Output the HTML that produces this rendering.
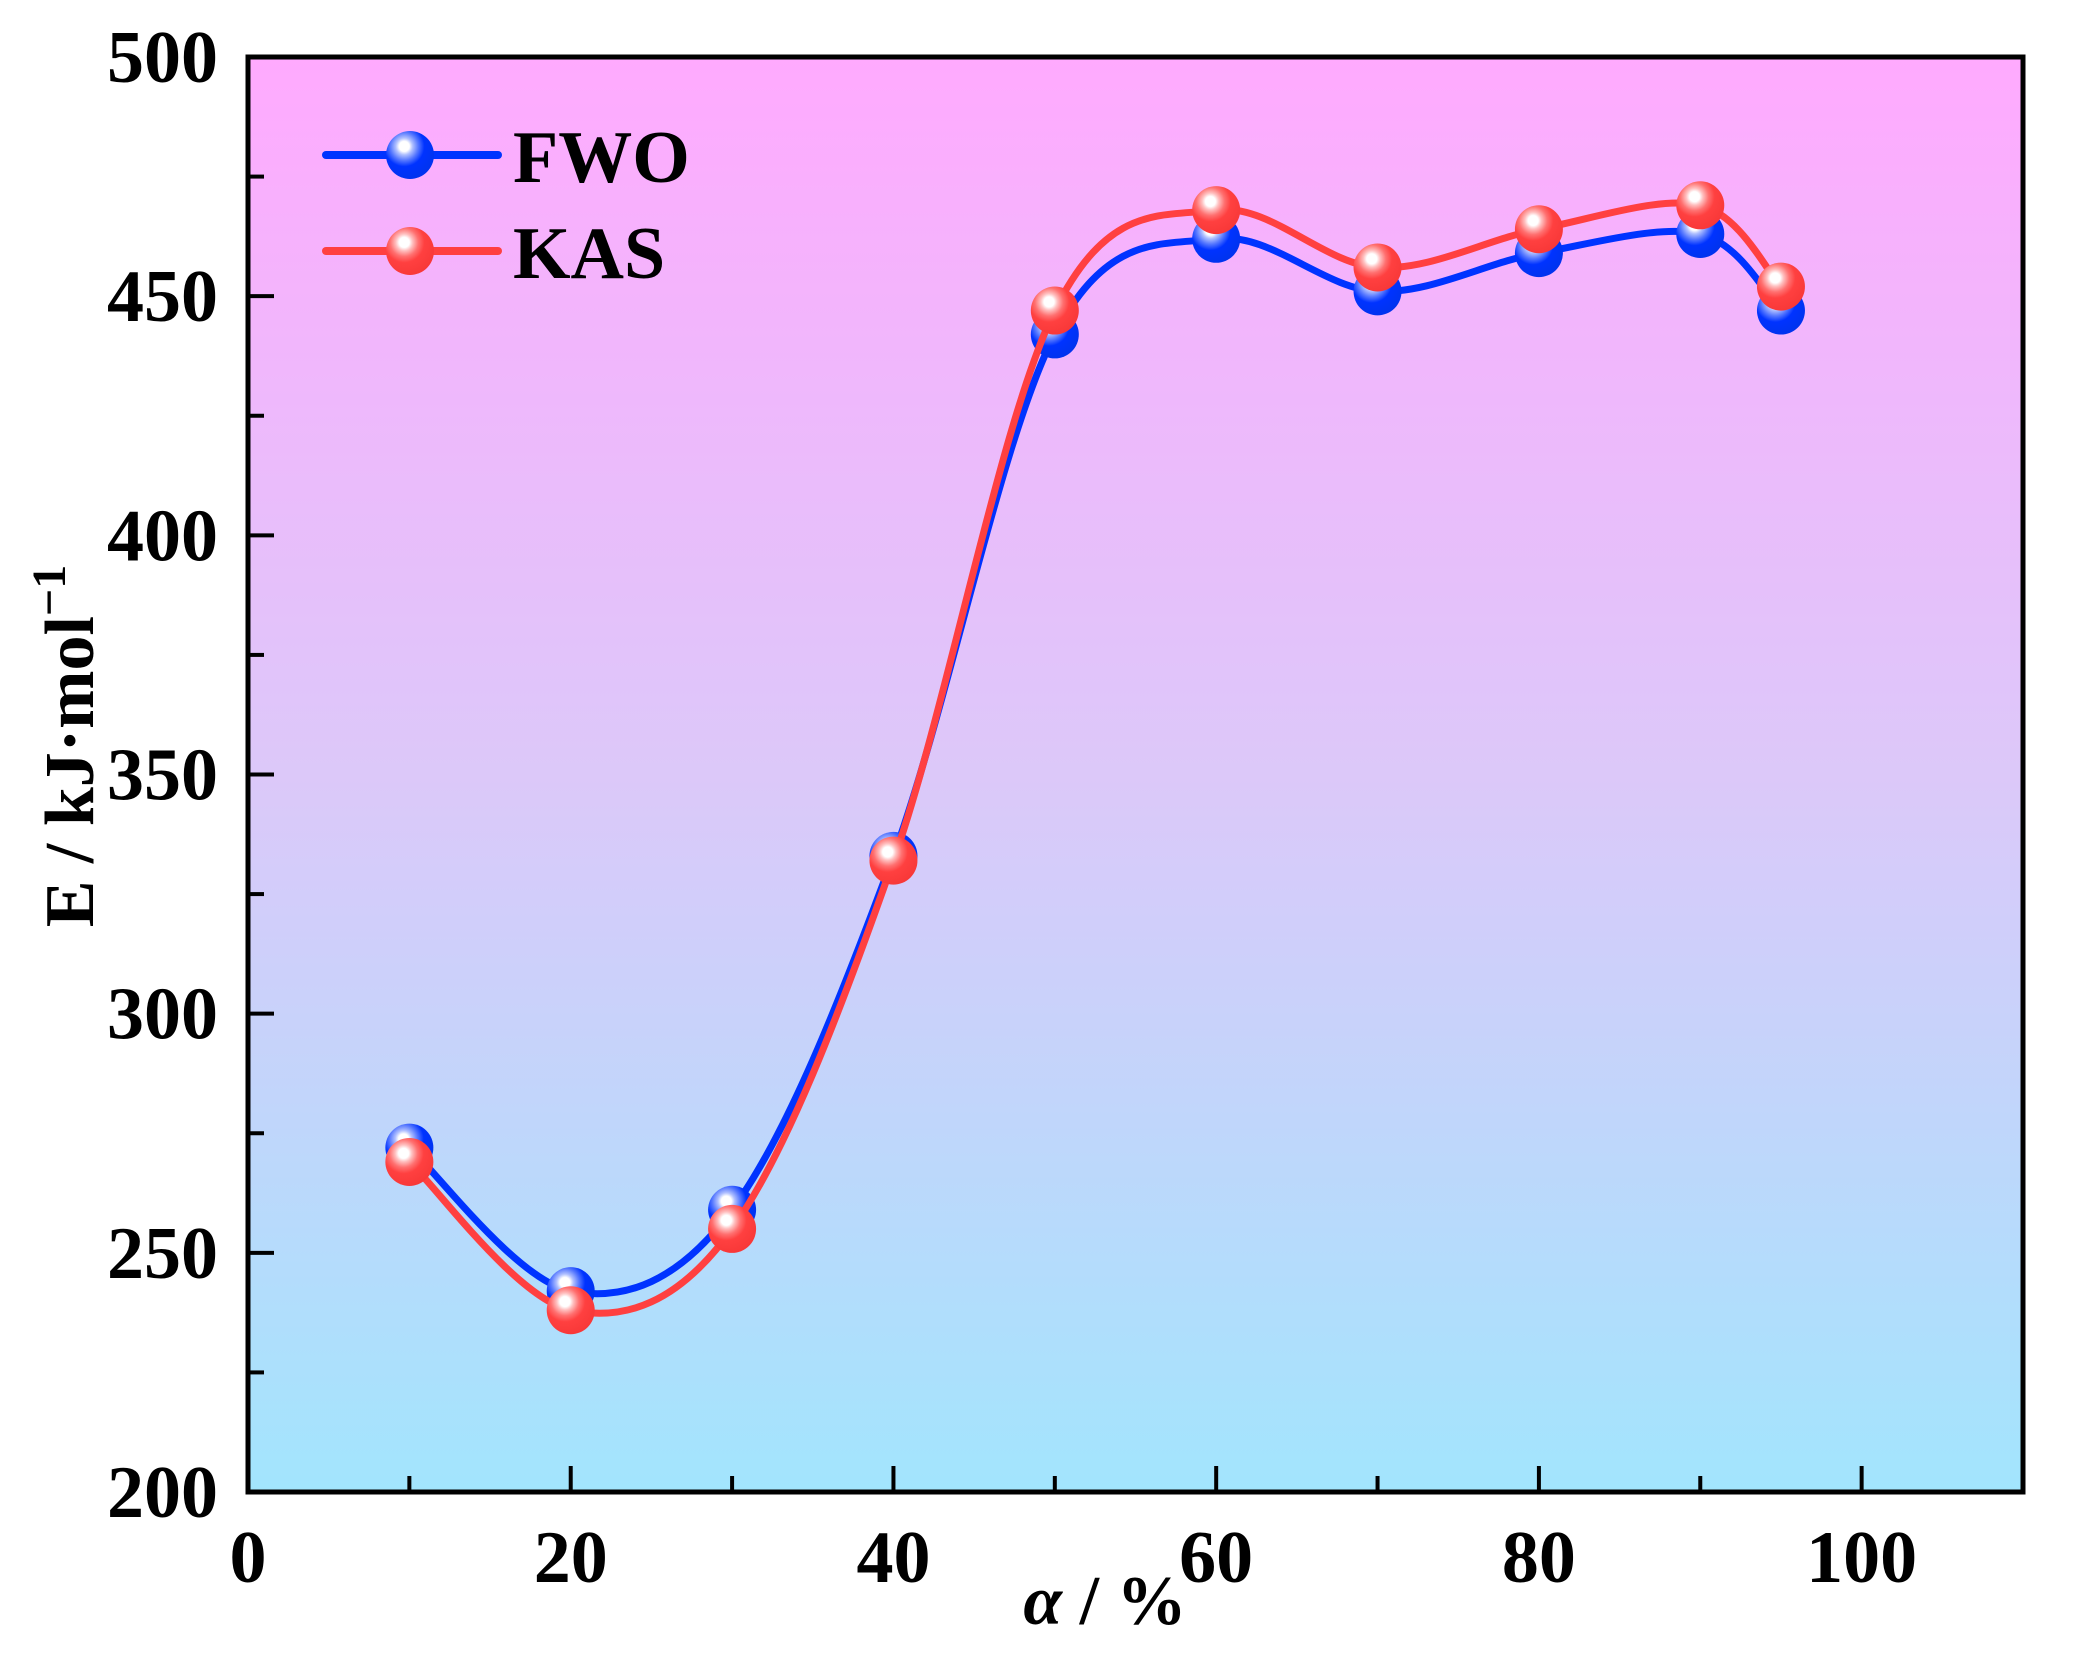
<!DOCTYPE html>
<html><head><meta charset="utf-8"><style>
html,body{margin:0;padding:0;background:#fff}
svg text{font-family:"Liberation Serif",serif;font-weight:bold;fill:#000}
</style></head><body>
<svg id="chart" width="2073" height="1663" viewBox="0 0 2073 1663" xmlns="http://www.w3.org/2000/svg">
<defs>
<linearGradient id="bg" x1="0" y1="0" x2="0" y2="1">
<stop offset="0" stop-color="#ffaafe"/>
<stop offset="0.5" stop-color="#dcc8f9"/>
<stop offset="1" stop-color="#a2e5fd"/>
</linearGradient>
<radialGradient id="gb" cx="0.38" cy="0.32" r="0.7">
<stop offset="0" stop-color="#fff"/><stop offset="0.15" stop-color="#fff"/>
<stop offset="0.25" stop-color="#b0c0ff"/><stop offset="0.42" stop-color="#5577ff"/><stop offset="0.6" stop-color="#0033ff"/><stop offset="1" stop-color="#0033ee"/>
</radialGradient>
<radialGradient id="gr" cx="0.38" cy="0.32" r="0.7">
<stop offset="0" stop-color="#fff"/><stop offset="0.15" stop-color="#fff"/>
<stop offset="0.25" stop-color="#ffc0c0"/><stop offset="0.42" stop-color="#ff7070"/><stop offset="0.6" stop-color="#ff4040"/><stop offset="1" stop-color="#f83838"/>
</radialGradient>
</defs>
<rect x="248" y="57" width="1775" height="1435" fill="url(#bg)"/>
<g id="ticks"></g>
<g id="series"></g>
<rect x="248" y="57" width="1775" height="1435" fill="none" stroke="#000" stroke-width="5"/>
<g id="labels"></g>
<text transform="translate(93,746) rotate(-90)" text-anchor="middle" font-size="70">E / kJ·mol<tspan dy="-28" font-size="48">−1</tspan></text>
<text x="1105" y="1624" text-anchor="middle" font-size="70"><tspan font-style="italic">α</tspan> / %</text>
<g>
<line x1="326" y1="155" x2="498" y2="155" stroke="#0033ff" stroke-width="8" stroke-linecap="round"/>
<circle cx="410" cy="155" r="24" fill="url(#gb)"/>
<text x="513" y="182" font-size="74">FWO</text>
<line x1="326" y1="251" x2="498" y2="251" stroke="#ff4040" stroke-width="8" stroke-linecap="round"/>
<circle cx="410" cy="251" r="24" fill="url(#gr)"/>
<text x="513" y="278" font-size="74">KAS</text>
</g>
</svg>
<script>
const alphaVals=[10,20,30,40,50,60,70,80,90,95];
const fwoVals=[272,242,259,333,442,462,451,459,463,447];
const kasVals=[269,238,255,332,447,468,456,464,469,452];
const xTicks=[0,20,40,60,80,100];
const yTicks=[200,250,300,350,400,450,500];
const NS="http://www.w3.org/2000/svg";
const L=248,R=2023,T=57,B=1492;
const xs=v=>L+(v-0)/(110-0)*(R-L);
const ys=v=>B-(v-200)/(500-200)*(B-T);
function mk(tag,attrs,parent){const e=document.createElementNS(NS,tag);for(const k in attrs)e.setAttribute(k,attrs[k]);parent.appendChild(e);return e;}
const tg=document.getElementById('ticks'),lg=document.getElementById('labels'),sg=document.getElementById('series');
for(let v=0;v<=110;v+=10){const maj=v%20===0;const l=mk('line',{x1:xs(v),x2:xs(v),y1:B,y2:B-(maj?26:16),stroke:'#000','stroke-width':4},tg);

}
for(let v=200;v<=500;v+=25){const maj=v%50===0;const l=mk('line',{x1:L,x2:L+(maj?26:16),y1:ys(v),y2:ys(v),stroke:'#000','stroke-width':4},tg);

}
xTicks.forEach(v=>{const t=mk('text',{x:xs(v),y:1582,'text-anchor':'middle','font-size':74},lg);t.textContent=v;

});
yTicks.forEach(v=>{const t=mk('text',{x:218,y:ys(v)+25,'text-anchor':'end','font-size':74},lg);t.textContent=v;

});
function path(xv,yv){const p=xv.map((x,i)=>[xs(x),ys(yv[i])]);let d='M'+p[0][0]+','+p[0][1];
for(let i=0;i<p.length-1;i++){const p0=p[i-1]||p[i],p1=p[i],p2=p[i+1],p3=p[i+2]||p2;
const c1=[p1[0]+(p2[0]-p0[0])/6,p1[1]+(p2[1]-p0[1])/6],c2=[p2[0]-(p3[0]-p1[0])/6,p2[1]-(p3[1]-p1[1])/6];
d+=` C${c1[0]},${c1[1]} ${c2[0]},${c2[1]} ${p2[0]},${p2[1]}`;}return d;}
[[fwoVals,'#0033ff','url(#gb)','fwo'],[kasVals,'#ff4040','url(#gr)','kas']].forEach(([vals,col,grad,nm])=>{
const p=mk('path',{d:path(alphaVals,vals),fill:'none',stroke:col,'stroke-width':7},sg);


alphaVals.forEach((a,i)=>{const c=mk('circle',{cx:xs(a),cy:ys(vals[i]),r:24,fill:grad},sg);

});
});
</script>
</body></html>
